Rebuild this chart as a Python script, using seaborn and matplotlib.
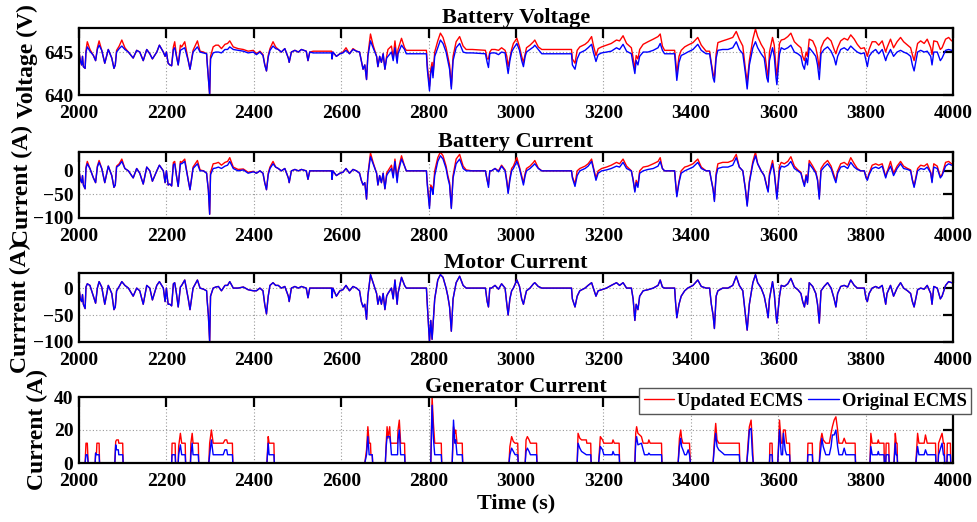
import matplotlib
matplotlib.use("Agg")
import matplotlib.pyplot as plt
import numpy as np
import pandas as pd
import seaborn as sns

# ---------------------------------------------------------------- data
# time base shared by the voltage / battery current / motor current traces
time_s = [
    2000, 2003, 2006, 2008, 2010, 2014, 2016, 2019, 2025, 2033,
    2038, 2042, 2046, 2052, 2059, 2067, 2075, 2080, 2083, 2086,
    2092, 2098, 2105, 2113, 2124, 2132, 2139, 2147, 2155, 2162,
    2168, 2178, 2184, 2193, 2197, 2200, 2204, 2208, 2212, 2216,
    2219, 2223, 2227, 2232, 2235, 2242, 2250, 2254, 2261, 2271,
    2277, 2285, 2292, 2293, 2296, 2299, 2301, 2307, 2313, 2319,
    2326, 2334, 2340, 2345, 2353, 2364, 2376, 2387, 2399, 2406,
    2414, 2421, 2425, 2429, 2433, 2437, 2444, 2450, 2456, 2463,
    2471, 2479, 2481, 2486, 2494, 2502, 2509, 2520, 2524, 2528,
    2536, 2578, 2579, 2581, 2589, 2597, 2604, 2611, 2619, 2627,
    2635, 2642, 2646, 2650, 2654, 2658, 2661, 2667, 2673, 2681,
    2684, 2688, 2692, 2696, 2700, 2704, 2707, 2715, 2719, 2723,
    2728, 2730, 2738, 2745, 2749, 2795, 2797, 2802, 2805, 2808,
    2810, 2814, 2821, 2827, 2833, 2840, 2844, 2848, 2852, 2856,
    2863, 2871, 2879, 2886, 2900, 2930, 2934, 2937, 2940, 2944,
    2952, 2960, 2967, 2975, 2979, 2982, 2986, 2990, 2994, 3002,
    3008, 3013, 3017, 3021, 3024, 3032, 3040, 3043, 3051, 3059,
    3127, 3129, 3135, 3140, 3146, 3158, 3165, 3173, 3177, 3183,
    3188, 3196, 3207, 3218, 3230, 3237, 3245, 3253, 3264, 3268,
    3272, 3275, 3279, 3283, 3291, 3302, 3314, 3325, 3330, 3335,
    3340, 3363, 3365, 3368, 3373, 3378, 3386, 3393, 3405, 3416,
    3424, 3435, 3443, 3447, 3451, 3454, 3458, 3462, 3473, 3485,
    3496, 3504, 3511, 3519, 3525, 3529, 3534, 3542, 3548, 3553,
    3561, 3568, 3574, 3577, 3580, 3587, 3591, 3595, 3597, 3603,
    3607, 3614, 3622, 3629, 3637, 3645, 3652, 3656, 3660, 3664,
    3667, 3671, 3679, 3686, 3690, 3694, 3698, 3705, 3713, 3721,
    3728, 3732, 3736, 3743, 3751, 3759, 3766, 3774, 3781, 3789,
    3797, 3801, 3804, 3808, 3815, 3823, 3830, 3838, 3846, 3849,
    3857, 3864, 3872, 3880, 3887, 3896, 3903, 3907, 3911, 3919,
    3926, 3934, 3941, 3949, 3952, 3956, 3964, 3971, 3975, 3983,
    3990, 3997, 4000,
]

voltage_updated = [
    645.0, 644.0, 643.5, 644.5, 643.3, 643.1, 645.2, 646.2, 645.3, 644.6,
    644.0, 645.5, 646.3, 645.2, 643.7, 645.3, 644.3, 643.1, 643.5, 645.2,
    645.7, 646.4, 645.5, 645.0, 644.3, 645.2, 645.0, 644.0, 645.3, 644.8,
    644.2, 645.0, 645.8, 645.0, 644.5, 645.0, 643.7, 643.5, 643.4, 645.6,
    646.2, 644.6, 643.5, 645.8, 645.6, 646.2, 644.0, 643.0, 645.2, 646.3,
    645.1, 645.0, 644.8, 644.0, 642.0, 640.0, 644.5, 645.6, 645.8, 645.8,
    645.4, 645.9, 646.0, 646.3, 645.6, 645.4, 645.3, 645.1, 645.2, 644.8,
    645.1, 644.7, 643.6, 642.8, 644.6, 645.4, 646.2, 645.6, 645.3, 645.0,
    645.4, 644.3, 643.8, 645.0, 645.2, 645.0, 645.3, 645.1, 644.0, 645.0,
    645.1, 645.1, 644.2, 645.0, 644.5, 644.8, 645.0, 645.5, 644.8, 645.4,
    645.1, 645.0, 644.0, 643.0, 643.5, 641.8, 644.6, 647.1, 645.8, 644.5,
    643.3, 644.5, 643.8, 644.8, 643.0, 644.5, 645.3, 645.7, 644.3, 646.3,
    644.0, 645.3, 646.6, 645.5, 645.2, 645.2, 643.5, 641.0, 643.0, 643.8,
    642.3, 645.0, 646.3, 647.2, 646.7, 645.5, 644.5, 643.5, 641.0, 644.5,
    646.2, 646.8, 645.7, 645.3, 645.3, 645.2, 644.2, 644.2, 645.0, 645.3,
    645.3, 645.2, 645.5, 645.2, 644.5, 643.3, 644.3, 645.3, 646.0, 646.6,
    645.6, 644.5, 643.8, 644.8, 645.5, 645.8, 646.2, 646.4, 645.6, 645.3,
    645.3, 644.2, 643.7, 645.2, 645.6, 645.9, 646.2, 646.8, 645.8, 644.6,
    645.4, 645.6, 645.8, 646.0, 646.4, 646.3, 646.9, 646.0, 645.5, 644.3,
    643.0, 644.6, 644.2, 645.3, 645.9, 646.2, 646.5, 646.8, 647.1, 645.7,
    645.2, 645.2, 644.2, 642.5, 644.5, 645.2, 645.6, 645.8, 646.1, 646.7,
    645.8, 645.1, 645.1, 643.7, 642.5, 642.0, 644.8, 646.1, 646.3, 646.5,
    646.7, 647.4, 646.5, 645.7, 643.0, 641.5, 644.0, 646.5, 647.7, 646.8,
    645.9, 645.3, 643.0, 642.0, 645.0, 646.7, 645.8, 643.0, 642.2, 646.0,
    646.4, 646.5, 646.8, 647.2, 646.2, 645.8, 645.5, 644.5, 644.0, 645.0,
    644.5, 646.5, 646.3, 645.5, 644.5, 643.0, 645.5, 646.3, 646.7, 646.3,
    645.3, 644.8, 645.5, 646.3, 646.6, 646.4, 647.0, 646.5, 645.9, 645.4,
    645.5, 645.0, 644.5, 645.3, 646.2, 646.2, 645.8, 646.3, 645.0, 645.5,
    646.5, 645.5, 646.2, 646.7, 646.2, 645.8, 645.5, 644.7, 644.0, 646.0,
    646.3, 646.0, 646.5, 645.5, 644.7, 646.3, 646.2, 645.3, 645.5, 646.5,
    646.7, 646.3, 646.3,
]

voltage_original = [
    645.0, 644.0, 643.5, 644.5, 643.3, 643.1, 645.0, 645.6, 645.1, 644.6,
    644.0, 645.3, 645.8, 645.2, 643.7, 645.3, 644.3, 643.1, 643.5, 645.0,
    645.4, 645.7, 645.3, 645.0, 644.3, 645.2, 645.0, 644.0, 645.3, 644.8,
    644.2, 645.0, 645.8, 645.0, 644.5, 645.0, 643.7, 643.5, 643.4, 645.3,
    645.5, 644.5, 643.5, 645.2, 645.3, 645.5, 644.0, 643.0, 645.0, 645.6,
    645.0, 644.9, 644.8, 644.0, 642.0, 640.0, 644.2, 644.9, 645.0, 645.0,
    644.9, 645.3, 645.3, 645.6, 645.3, 645.2, 645.1, 644.9, 645.0, 644.7,
    645.0, 644.6, 643.5, 642.8, 644.4, 645.2, 645.7, 645.4, 645.3, 645.0,
    645.4, 644.3, 643.8, 645.0, 645.2, 645.0, 645.3, 645.1, 644.0, 645.0,
    644.9, 644.9, 644.2, 645.0, 644.5, 644.8, 644.9, 645.2, 644.8, 645.3,
    645.1, 645.0, 644.0, 643.0, 643.5, 641.8, 644.5, 646.3, 645.5, 644.5,
    643.3, 644.5, 643.8, 644.8, 643.0, 644.3, 644.5, 645.0, 644.0, 645.5,
    643.7, 644.8, 645.8, 645.3, 644.8, 644.8, 643.0, 640.5, 642.5, 643.3,
    642.0, 644.5, 645.5, 646.4, 646.0, 645.0, 644.0, 643.0, 640.7, 644.0,
    645.5, 646.0, 645.0, 644.9, 644.9, 644.8, 643.8, 643.2, 644.8, 644.9,
    644.9, 644.7, 645.0, 644.9, 643.5, 642.5, 644.0, 645.0, 645.4, 646.0,
    645.2, 644.0, 643.3, 644.5, 645.0, 645.3, 645.6, 645.8, 645.3, 644.8,
    644.8, 643.5, 643.0, 644.2, 644.9, 645.2, 645.5, 645.9, 645.0, 643.9,
    644.7, 644.9, 645.0, 645.1, 645.5, 645.3, 645.9, 645.1, 644.8, 643.6,
    642.5, 644.0, 643.5, 644.5, 645.0, 645.0, 645.2, 645.5, 646.0, 645.2,
    644.8, 644.8, 643.5, 641.7, 643.8, 644.6, 644.8, 645.0, 645.3, 645.9,
    645.2, 644.8, 644.8, 643.5, 642.0, 641.5, 644.3, 645.2, 645.3, 645.3,
    645.5, 646.2, 645.3, 644.8, 642.5, 640.7, 643.5, 645.5, 646.2, 645.5,
    644.8, 644.3, 642.0, 641.5, 644.0, 645.5, 644.5, 642.0, 641.2, 644.8,
    645.5, 645.3, 645.5, 645.8, 645.0, 644.8, 644.5, 643.5, 643.0, 644.3,
    643.5, 645.5, 645.0, 644.5, 643.5, 641.8, 644.8, 645.3, 645.6, 645.1,
    644.3, 643.5, 644.5, 645.3, 645.5, 645.2, 645.7, 645.3, 645.0, 644.8,
    644.9, 644.0, 643.3, 644.5, 645.0, 645.3, 644.8, 645.3, 644.0, 644.5,
    645.3, 644.5, 645.0, 645.2, 645.0, 644.8, 644.5, 643.5, 642.8, 645.0,
    645.2, 645.0, 645.1, 644.5, 643.5, 645.0, 645.0, 644.0, 644.3, 645.2,
    645.3, 645.2, 645.2,
]

battery_current_updated = [
    0, -18, -25, -10, -30, -38, 8, 20, 5, -15,
    -25, 10, 22, 5, -25, 10, -10, -35, -30, 10,
    15, 25, 5, 0, -15, 5, -5, -28, 8, 0,
    -22, 0, 12, 0, -25, 0, -30, -28, -32, 18,
    20, -10, -33, 20, 18, 25, -20, -40, 8, 22,
    2, 0, -5, -15, -40, -92, -3, 15, 16, 18,
    12, 18, 20, 28, 8, 3, 4, -3, -1, -5,
    0, -5, -25, -40, -5, 8, 20, 8, 5, 0,
    5, -15, -25, 0, 3, 0, 3, 0, -18, 0,
    0, 0, -18, 0, -10, -5, -3, 5, -5, 3,
    0, -5, -20, -30, -25, -60, -8, 38, 18, -5,
    -30, -10, -25, -5, -38, -5, 0, 12, -10, 25,
    -20, 0, 32, 10, 0, 0, -25, -75, -30, -35,
    -45, 0, 28, 40, 32, 10, -10, -25, -78, -10,
    25, 35, 10, 2, 0, 0, -20, -30, 0, 0,
    5, 0, 12, 2, -20, -45, -15, 5, 10, 28,
    8, -10, -25, -5, 5, 10, 18, 22, 6, 0,
    0, -12, -28, 0, 5, 10, 15, 25, 8, -15,
    0, 5, 8, 12, 18, 15, 25, 10, 0, -18,
    -42, -20, -30, 0, 8, 10, 15, 20, 28, 5,
    0, 0, -22, -52, -22, 0, 8, 10, 15, 25,
    8, 0, 0, -20, -38, -62, -5, 15, 18, 18,
    22, 35, 8, 0, -38, -72, -22, 20, 40, 15,
    0, -10, -32, -42, -5, 22, -2, -38, -55, 10,
    18, 15, 20, 30, 10, 2, -3, -18, -30, -8,
    -22, 22, 10, -2, -18, -55, 5, 15, 22, 10,
    -10, -20, 0, 15, 18, 12, 28, 15, 5, 0,
    0, -12, -18, -5, 12, 15, 12, 15, -12, -3,
    20, -5, 10, 20, 10, 5, 2, -18, -32, 5,
    12, 10, 15, -3, -22, 15, 10, -12, -8, 18,
    20, 15, 15,
]

battery_current_original = [
    0, -18, -25, -10, -30, -38, 5, 15, 5, -15,
    -25, 8, 18, 5, -25, 10, -10, -35, -30, 8,
    12, 20, 5, 0, -15, 5, -5, -28, 8, 0,
    -22, 0, 12, 0, -25, 0, -30, -28, -32, 13,
    15, -10, -33, 15, 15, 20, -20, -40, 5, 15,
    0, 0, -5, -15, -40, -92, -8, 5, 6, 8,
    5, 10, 12, 20, 5, 0, 2, -5, -2, -5,
    0, -5, -25, -40, -8, 5, 15, 8, 5, 0,
    5, -15, -25, 0, 3, 0, 3, 0, -18, 0,
    0, 0, -18, 0, -10, -5, -3, 5, -5, 3,
    0, -5, -20, -30, -25, -60, -10, 30, 15, -5,
    -30, -10, -25, -5, -38, -10, -5, 5, -15, 20,
    -25, -5, 25, 10, 0, 0, -30, -80, -35, -40,
    -50, -10, 20, 32, 25, 5, -15, -30, -80, -15,
    15, 25, 5, 0, 0, 0, -20, -35, 0, 0,
    5, -2, 10, 0, -25, -48, -20, 0, 5, 20,
    5, -15, -30, -10, 0, 5, 12, 15, 5, 0,
    0, -15, -33, -10, 0, 5, 10, 20, 5, -20,
    -5, 0, 2, 5, 10, 8, 18, 5, 0, -20,
    -45, -25, -35, -5, 0, 3, 5, 10, 20, 5,
    0, 0, -25, -55, -25, -5, 0, 3, 8, 18,
    5, 0, 0, -20, -40, -65, -10, 5, 8, 8,
    12, 28, 8, 0, -40, -75, -25, 15, 32, 15,
    0, -10, -35, -45, -10, 15, -5, -40, -60, 0,
    10, 8, 12, 20, 5, 0, -5, -20, -33, -10,
    -25, 15, 5, -5, -20, -60, 0, 8, 15, 5,
    -15, -25, -5, 8, 10, 5, 18, 8, 3, 0,
    0, -15, -20, -8, 5, 8, 5, 10, -15, -5,
    10, -10, 5, 15, 5, 3, 0, -20, -35, 0,
    5, 3, 8, -5, -25, 8, 5, -15, -10, 10,
    15, 12, 12,
]

motor_current = [
    0, -20, -25, -12, -30, -38, 2, 8, 5, -15,
    -28, 0, 12, 2, -30, 5, -10, -40, -35, -5,
    3, 12, 5, 0, -15, 0, -5, -30, 5, 0,
    -22, 5, 12, 0, -25, 0, -30, -30, -33, 8,
    10, -10, -35, 2, 5, 15, -20, -40, 0, 15,
    0, -2, -5, -20, -50, -100, -15, 0, 2, 3,
    -5, 5, 5, 12, 0, 0, 2, -3, -5, -5,
    0, -5, -30, -48, -15, 5, 10, 5, 5, 0,
    3, -15, -25, 0, 3, 0, 3, 0, -18, 0,
    0, 0, -18, 0, -15, -5, -3, 5, -5, 3,
    0, -5, -25, -35, -30, -58, -15, 25, 10, -10,
    -30, -15, -30, -10, -40, -15, -10, 0, -20, 15,
    -30, -10, 20, 5, 0, 0, -30, -100, -60, -95,
    -70, -20, 15, 25, 20, 0, -15, -35, -80, -20,
    10, 22, 5, 0, 0, 0, -25, -35, 0, 0,
    5, -2, 8, 0, -30, -50, -20, -5, 0, 15,
    3, -20, -30, -15, -5, 0, 8, 10, 3, 0,
    0, -20, -35, -15, -5, 0, 5, 10, 0, -15,
    -5, -3, 0, 5, 10, 5, 10, 0, 0, -20,
    -60, -30, -40, -15, -5, -3, 0, 5, 15, 2,
    0, 0, -25, -55, -30, -15, -5, 0, 5, 15,
    3, 0, 0, -30, -50, -75, -15, -5, 0, 0,
    5, 22, 5, -5, -50, -78, -30, 10, 25, 10,
    0, -15, -40, -55, -20, 12, -10, -50, -65, -15,
    5, 3, 8, 18, 2, -3, -10, -25, -35, -15,
    -30, 10, 3, -10, -30, -65, -5, 3, 10, 0,
    -20, -35, -10, 3, 5, 2, 15, 5, 0, 0,
    0, -20, -25, -10, 0, 3, 0, 5, -30, -10,
    5, -15, 0, 10, 0, -5, -10, -25, -35, -3,
    0, -2, 5, -10, -30, 3, 0, -20, -15, 5,
    12, 10, 10,
]

# generator current: one line per charging episode
gen_time = [
    2000,
    2014, 2016, 2019, 2021,
    2037, 2038, 2040, 2041, 2046, 2047,
    2082, 2084, 2086, 2090, 2091, 2100, 2101,
    2212, 2213, 2220, 2221,
    2227, 2228, 2232, 2235, 2243, 2244,
    2255, 2256, 2259, 2261, 2273, 2274,
    2297, 2299, 2303, 2307, 2330, 2334, 2338, 2340, 2351, 2352,
    2430, 2433, 2435, 2446, 2447,
    2654, 2658, 2661, 2664, 2667, 2668, 2671, 2672,
    2701, 2703, 2705, 2707, 2711, 2713, 2715, 2729, 2730, 2733, 2736, 2745, 2746,
    2805, 2808, 2811, 2814, 2829, 2830,
    2854, 2857, 2860, 2862, 2865, 2877, 2878,
    2984, 2986, 2990, 2994, 2998, 3004, 3005,
    3021, 3023, 3026, 3030, 3033, 3047, 3048,
    3140, 3142, 3146, 3150, 3161, 3162, 3171, 3172,
    3189, 3193, 3198, 3201, 3220, 3222, 3225, 3236, 3237,
    3272, 3274, 3276, 3279, 3287, 3291, 3294, 3302, 3304, 3307, 3333, 3334,
    3371, 3374, 3377, 3379, 3382, 3386, 3390, 3394, 3397, 3399,
    3451, 3454, 3457, 3460, 3464, 3473, 3477, 3511, 3512,
    3528, 3531, 3534, 3538, 3541, 3543,
    3580, 3581, 3586, 3587,
    3599, 3603, 3607, 3610, 3612, 3616, 3619, 3626, 3627,
    3667, 3668, 3678, 3679,
    3694, 3696, 3700, 3703, 3709, 3717, 3721, 3724, 3728, 3732, 3736, 3739, 3747, 3751, 3755, 3776, 3777,
    3810, 3812, 3815, 3827, 3829, 3831, 3842, 3843,
    3846, 3847, 3853, 3854,
    3865, 3868, 3870, 3872, 3873,
    3915, 3919, 3922, 3934, 3937, 3941, 3960, 3961,
    3966, 3967, 3975, 3978, 3980, 3981,
    3986, 3987, 3994, 3995, 4000,
]

gen_current_updated = [
    0,
    0, 12, 12, 0,
    0, 6, 6, 12, 12, 0,
    0, 13, 14, 14, 12, 12, 0,
    0, 12, 12, 0,
    0, 10, 18, 12, 12, 0,
    0, 12, 18, 12, 12, 0,
    0, 12, 20, 12, 12, 14, 14, 12, 12, 0,
    0, 16, 12, 12, 0,
    0, 8, 22, 12, 12, 5, 5, 0,
    0, 12, 22, 15, 22, 12, 12, 12, 20, 26, 12, 12, 0,
    0, 40, 24, 12, 12, 0,
    0, 22, 18, 20, 12, 12, 0,
    0, 10, 16, 13, 12, 12, 0,
    0, 14, 16, 14, 12, 12, 0,
    0, 18, 15, 14, 14, 12, 12, 0,
    0, 16, 14, 12, 12, 14, 12, 12, 0,
    0, 18, 22, 18, 16, 12, 12, 12, 14, 12, 12, 0,
    0, 15, 20, 15, 12, 12, 12, 12, 12, 0,
    0, 14, 24, 14, 12, 12, 12, 12, 0,
    0, 12, 22, 26, 12, 0,
    0, 12, 12, 0,
    0, 26, 12, 12, 20, 20, 12, 12, 0,
    0, 12, 12, 0,
    0, 12, 18, 14, 12, 12, 18, 22, 26, 28, 20, 12, 12, 15, 12, 12, 0,
    0, 18, 12, 12, 14, 12, 12, 0,
    0, 12, 12, 0,
    0, 18, 12, 12, 0,
    0, 18, 12, 12, 17, 12, 12, 0,
    0, 12, 18, 12, 12, 0,
    0, 12, 12, 0, 0,
]

gen_current_original = [
    0,
    0, 5, 5, 0,
    0, 6, 5, 5, 5, 0,
    0, 11, 8, 8, 5, 5, 0,
    0, 5, 5, 0,
    0, 5, 11, 5, 5, 0,
    0, 5, 12, 5, 5, 0,
    0, 5, 14, 5, 5, 8, 8, 5, 5, 0,
    0, 12, 5, 5, 0,
    0, 5, 16, 5, 5, 5, 5, 0,
    0, 10, 16, 16, 16, 12, 5, 5, 14, 20, 5, 5, 0,
    0, 35, 15, 5, 5, 0,
    0, 26, 12, 14, 5, 5, 0,
    0, 5, 9, 7, 5, 5, 0,
    0, 7, 9, 7, 5, 5, 0,
    0, 12, 9, 7, 5, 5, 5, 0,
    0, 10, 8, 5, 5, 7, 5, 5, 0,
    0, 12, 16, 11, 12, 8, 5, 5, 6, 5, 5, 0,
    0, 10, 15, 10, 8, 5, 5, 8, 5, 0,
    0, 10, 18, 10, 8, 6, 5, 5, 0,
    0, 8, 20, 21, 5, 0,
    0, 5, 5, 0,
    0, 20, 5, 5, 18, 8, 5, 5, 0,
    0, 5, 5, 0,
    0, 5, 15, 10, 5, 5, 10, 17, 17, 20, 10, 5, 5, 9, 5, 5, 0,
    0, 10, 5, 5, 7, 5, 5, 0,
    0, 5, 5, 0,
    0, 12, 5, 5, 0,
    0, 10, 5, 5, 8, 5, 5, 0,
    0, 5, 12, 5, 5, 0,
    0, 5, 5, 0, 0,
]

x_ticks = [2000, 2200, 2400, 2600, 2800, 3000, 3200, 3400, 3600, 3800, 4000]
series_names = ["Updated ECMS", "Original ECMS"]
panel_titles = ["Battery Voltage", "Battery Current", "Motor Current", "Generator Current"]
panel_ylabels = ["Voltage (V)", "Current (A)", "Currrent (A)", "Current (A)"]

# ---------------------------------------------------------------- frames
bus = pd.DataFrame({
    "t": time_s,
    "v_upd": voltage_updated,
    "v_org": voltage_original,
    "i_upd": battery_current_updated,
    "i_org": battery_current_original,
    "motor": motor_current,
})
gen = pd.DataFrame({
    "t": gen_time,
    "upd": gen_current_updated,
    "org": gen_current_original,
})

# ---------------------------------------------------------------- style
sns.set_theme(style="white")
plt.rcParams["font.family"] = ["Liberation Serif", "DejaVu Serif"]
plt.rcParams["font.weight"] = "bold"
plt.rcParams["axes.labelweight"] = "bold"
plt.rcParams["axes.titleweight"] = "bold"
plt.rcParams["text.color"] = "black"
plt.rcParams["axes.labelcolor"] = "black"
plt.rcParams["xtick.color"] = "black"
plt.rcParams["ytick.color"] = "black"

RED = "#ff0000"
BLUE = "#0000ff"
FS = 14

fig = plt.figure(figsize=(9.77, 5.22), dpi=100)
W = 977.0
H = 522.0
left = 79 / W
width = (953 - 79) / W
boxes = [(28, 95), (152, 218), (273, 342), (397, 463)]
axes = [fig.add_axes([left, 1 - b / H, width, (b - t) / H]) for t, b in boxes]


def style_axis(ax, yticks, ylim, title, ylabel, label_x):
    ax.set_xlim(2000, 4000)
    ax.set_ylim(*ylim)
    ax.set_xticks(x_ticks)
    ax.set_yticks(yticks)
    ax.grid(True, linestyle=(0, (1, 2)), color="#9a9a9a", linewidth=0.8)
    ax.set_axisbelow(True)
    ax.tick_params(axis="both", direction="in", length=7, width=1.6,
                   top=True, right=True, labelsize=FS, colors="black")
    ax.tick_params(axis="x", pad=7)
    ax.tick_params(axis="y", pad=4)
    for sp in ax.spines.values():
        sp.set_visible(True)
        sp.set_color("black")
        sp.set_linewidth(1.6)
    ax.set_title(title, fontsize=16, fontweight="bold", pad=3.5, color="black")
    ax.set_ylabel(ylabel, fontsize=17, fontweight="bold")
    ax.yaxis.set_label_coords(label_x, 0.5)
    ax.set_xlabel("")


common = dict(estimator=None, sort=False, linewidth=1.0)

# battery voltage
ax = axes[0]
sns.lineplot(data=bus, x="t", y="v_upd", color=RED, ax=ax, legend=False, **common)
sns.lineplot(data=bus, x="t", y="v_org", color=BLUE, ax=ax, legend=False, **common)
style_axis(ax, [640, 645], (640, 647.8), panel_titles[0], panel_ylabels[0], -0.047)

# battery current
ax = axes[1]
sns.lineplot(data=bus, x="t", y="i_upd", color=RED, ax=ax, legend=False, **common)
sns.lineplot(data=bus, x="t", y="i_org", color=BLUE, ax=ax, legend=False, **common)
style_axis(ax, [-100, -50, 0], (-100, 40), panel_titles[1], panel_ylabels[1], -0.053)

# motor current (identical demand for both strategies)
ax = axes[2]
sns.lineplot(data=bus, x="t", y="motor", color=RED, ax=ax, legend=False, **common)
sns.lineplot(data=bus, x="t", y="motor", color=BLUE, ax=ax, legend=False, **common)
style_axis(ax, [-100, -50, 0], (-100, 28), panel_titles[2], panel_ylabels[2], -0.055)

# generator current
ax = axes[3]
sns.lineplot(data=gen, x="t", y="upd", color=RED, ax=ax, label=series_names[0], **common)
sns.lineplot(data=gen, x="t", y="org", color=BLUE, ax=ax, label=series_names[1], **common)
style_axis(ax, [0, 20, 40], (0, 40), panel_titles[3], panel_ylabels[3], -0.035)
ax.set_xlabel("Time (s)", fontsize=16, fontweight="bold", labelpad=3)

leg = ax.legend(loc="upper right", bbox_to_anchor=(971 / W, 1 - 388 / H),
                bbox_transform=fig.transFigure, ncol=2, fontsize=13.3,
                frameon=True, fancybox=False, framealpha=1, edgecolor="#555555",
                handlelength=1.65, handletextpad=0.15, columnspacing=0.3,
                borderpad=0.25, borderaxespad=0)
leg.get_frame().set_linewidth(1.0)
for txt in leg.get_texts():
    txt.set_fontweight("bold")
    txt.set_color("black")

fig.savefig("out.png", dpi=100)
